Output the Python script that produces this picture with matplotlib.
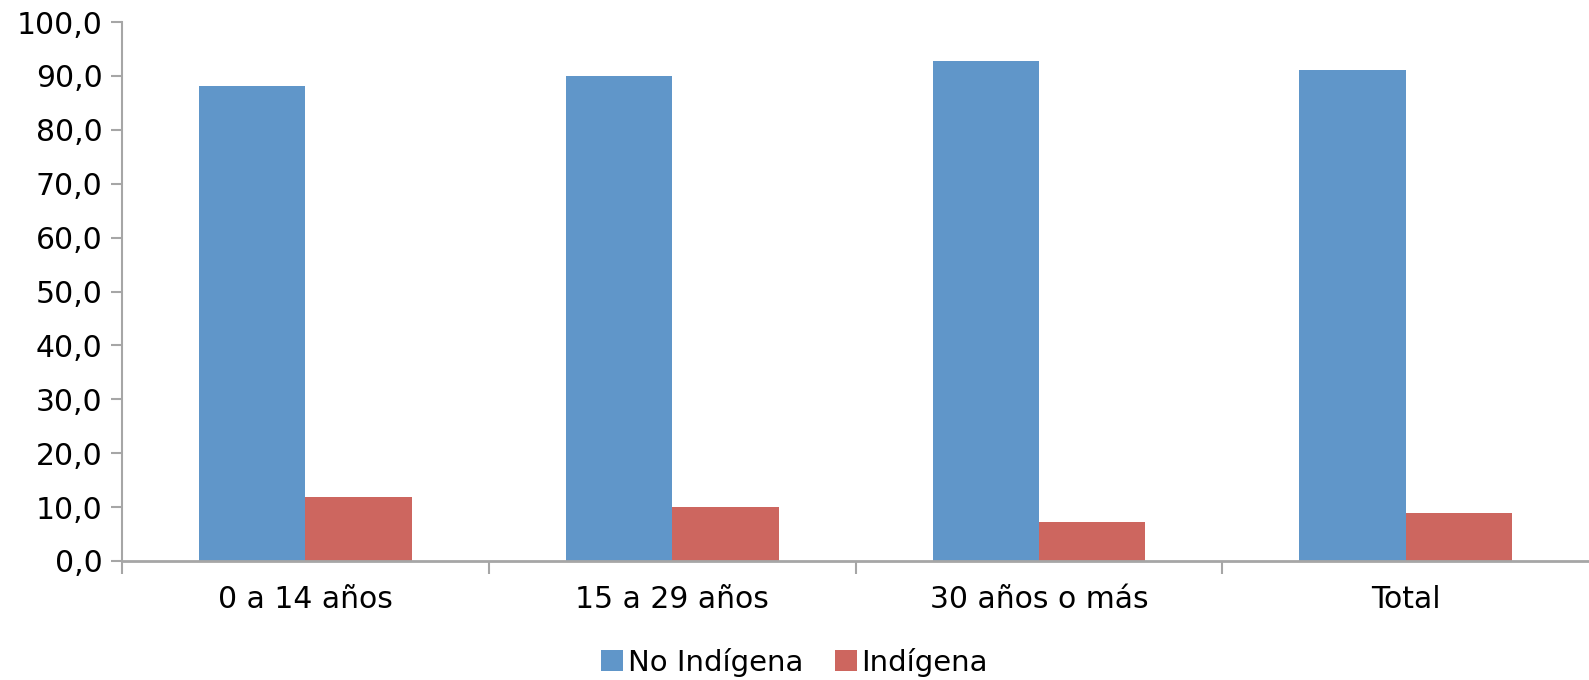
import numpy as np
import matplotlib.pyplot as plt
from matplotlib.ticker import FuncFormatter

categories = ['0 a 14 años', '15 a 29 años', '30 años o más', 'Total']
no_indigena = [88.2, 90.0, 92.8, 91.1]
indigena = [11.8, 10.0, 7.2, 8.9]

blue = '#6096C9'
red = '#CD665F'
axis_grey = '#A6A6A6'

plt.rcParams['font.family'] = ['DejaVu Sans']

fig = plt.figure(figsize=(15.89, 6.80), dpi=100)
ax = fig.add_axes([0.0768, 0.175, 0.9232, 0.7926])

x = np.arange(len(categories))
w = 0.29
ax.bar(x - w / 2, no_indigena, w, color=blue, label='No Indígena')
ax.bar(x + w / 2, indigena, w, color=red, label='Indígena')

ax.set_xlim(-0.5, len(categories) - 0.5)
ax.set_ylim(0, 100)
ax.set_yticks(np.arange(0, 101, 10))
ax.yaxis.set_major_formatter(FuncFormatter(lambda v, p: f'{v:.1f}'.replace('.', ',')))

ax.set_xticks(x)
ax.set_xticklabels(categories)
ax.set_xticks(np.arange(-0.5, len(categories) - 0.5, 1), minor=True)
ax.tick_params(axis='x', which='major', length=0, pad=17, labelsize=21.5)
ax.tick_params(axis='x', which='minor', length=9, width=1.5, color=axis_grey, direction='out')
ax.tick_params(axis='y', length=8, width=1.5, color=axis_grey, labelsize=21.5, pad=6)

for s in ['top', 'right']:
    ax.spines[s].set_visible(False)
ax.spines['left'].set_color(axis_grey)
ax.spines['left'].set_linewidth(1.5)
ax.spines['bottom'].set_color(axis_grey)
ax.spines['bottom'].set_linewidth(2)

fig.legend(loc='center', bbox_to_anchor=(0.5, 0.026), ncol=2, frameon=False,
           fontsize=21, handlelength=0.75, handleheight=0.75, handletextpad=0.15,
           columnspacing=1.1)

fig.savefig('out.png', dpi=100)
